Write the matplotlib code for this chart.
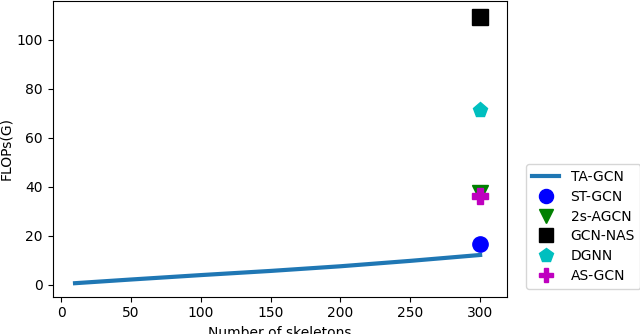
import matplotlib
matplotlib.use("Agg")
import matplotlib.pyplot as plt

# TA-GCN FLOPs vs number of skeletons
skeletons = [10, 50, 100, 150, 200, 250, 300]
ta_gcn_flops = [0.7, 2.2, 4.0, 5.7, 7.6, 9.8, 12.2]

# other methods, all at 300 skeletons
methods = ["ST-GCN", "2s-AGCN", "GCN-NAS", "DGNN", "AS-GCN"]
method_x = [300, 300, 300, 300, 300]
method_flops = [16.5, 37.5, 109.2, 71.4, 36.2]
method_markers = ["o", "v", "s", "p", "P"]
method_colors = ["b", "g", "k", "c", "m"]

fig = plt.figure(figsize=(6.4, 3.34), dpi=100)
ax = fig.add_axes([0.0823, 0.1117, 0.7094, 0.886])

ax.plot(skeletons, ta_gcn_flops, color="C0", linewidth=3, label="TA-GCN")
for name, x, y, mk, col in zip(methods, method_x, method_flops,
                               method_markers, method_colors):
    ax.plot(x, y, linestyle="none", marker=mk, color=col, markersize=11, label=name)

ax.set_xlim(-6, 319)
ax.set_ylim(-4.8, 115.8)
ax.set_xticks([0, 50, 100, 150, 200, 250, 300])
ax.set_yticks([0, 20, 40, 60, 80, 100])
ax.set_xlabel("Number of skeletons")
ax.set_ylabel("FLOPs(G)")
ax.yaxis.set_label_coords(-0.088, 0.5)

# legend sits outside the axes, lower right
fig.legend(loc="lower left", bbox_to_anchor=(0.822, 0.136),
           bbox_transform=fig.transFigure, borderaxespad=0,
           labelspacing=0.42, markerscale=0.92)

fig.savefig("out.png", dpi=100)
